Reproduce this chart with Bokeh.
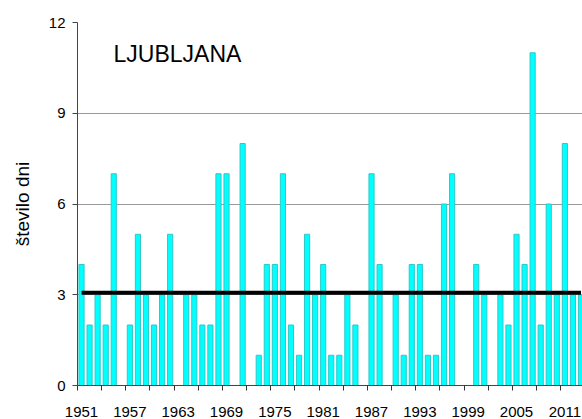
from bokeh.plotting import figure
from bokeh.models import FixedTicker, Label, ColumnDataSource
from bokeh.embed import file_html
from bokeh.resources import INLINE

years = list(range(1951, 2014))
days = [4, 2, 3, 2, 7, 0, 2, 5, 3, 2,
        3, 5, 0, 3, 3, 2, 2, 7, 7, 0,
        8, 0, 1, 4, 4, 7, 2, 1, 5, 3,
        4, 1, 1, 3, 2, 0, 7, 4, 0, 3,
        1, 4, 4, 1, 1, 6, 7, 0, 0, 4,
        3, 0, 3, 2, 5, 4, 11, 2, 6, 3,
        8, 3, 3]
label_years = list(range(1951, 2012, 6))
y_ticks = [0, 3, 6, 9, 12]
station = "LJUBLJANA"
y_title = "število dni"

# reference-period mean 1961-1990
ref = [d for y, d in zip(years, days) if 1961 <= y <= 1990]
mean_ref = sum(ref) / len(ref)

FONT = "Liberation Sans"

p = figure(width=582, height=419, output_backend="svg", toolbar_location=None,
           x_range=(1950.5, 2013.19), y_range=(0, 12),
           min_border_left=77, min_border_right=0, min_border_top=22,
           min_border_bottom=33)
p.outline_line_color = None
p.background_fill_color = "white"
p.border_fill_color = "white"

src = ColumnDataSource(dict(x=years, top=days))
p.vbar(x="x", top="top", width=0.64, bottom=0, source=src,
       fill_color="#00FFFF", line_color="#30C8C8", line_width=1)

p.line(x=[years[0], years[-1]], y=[mean_ref, mean_ref], line_color="black",
       line_width=4)

# axes
xa = p.xaxis[0]
xa.ticker = FixedTicker(ticks=label_years,
                        minor_ticks=[1950.5 + 3 * k for k in range(22)])
xa.major_tick_out = 0
xa.major_tick_in = 0
xa.minor_tick_out = 5
xa.minor_tick_in = 0
xa.minor_tick_line_color = "#333333"
xa.axis_line_color = "#444444"
xa.major_label_text_font = FONT
xa.major_label_text_font_size = "15px"
xa.major_label_text_color = "black"
xa.major_label_standoff = 16

ya = p.yaxis[0]
ya.ticker = FixedTicker(ticks=y_ticks)
ya.major_tick_out = 5
ya.major_tick_in = 0
ya.minor_tick_out = 0
ya.minor_tick_in = 0
ya.major_tick_line_color = "#444444"
ya.axis_line_color = "#444444"
ya.major_label_text_font = FONT
ya.major_label_text_font_size = "15px"
ya.major_label_text_color = "black"
ya.major_label_standoff = 7
ya.axis_label = y_title
ya.axis_label_text_font = FONT
ya.axis_label_text_font_size = "19px"
ya.axis_label_text_font_style = "normal"
ya.axis_label_text_color = "black"
ya.axis_label_standoff = 13

p.xgrid.grid_line_color = None
p.ygrid.grid_line_color = "#999999"
p.ygrid.grid_line_width = 1

p.add_layout(Label(x=1954.97, y=10.95, text=station, text_font=FONT,
                   text_font_size="23px", text_color="black",
                   text_baseline="alphabetic", text_align="left"))

html = file_html(p, INLINE)
html = html.replace("</head>", "<style>html,body{overflow:hidden}</style></head>", 1)
open("out.html", "w").write(html)
